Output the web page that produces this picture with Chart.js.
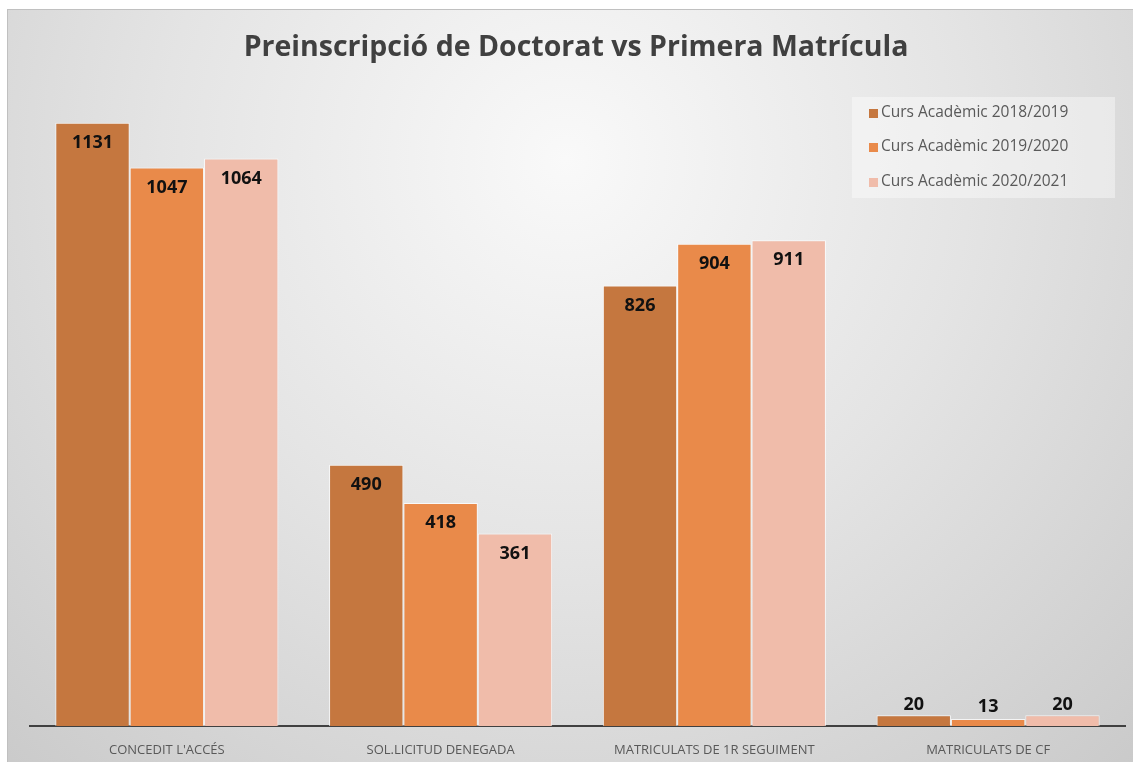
<!DOCTYPE html>
<html>
<head>
<meta charset="utf-8">
<script src="https://cdn.jsdelivr.net/npm/chart.js@4/dist/chart.umd.min.js"></script>
<style>
html,body{margin:0;padding:0;background:#fff;}
#wrap{width:1133px;height:762px;position:relative;}
</style>
</head>
<body>
<div id="wrap"><canvas id="c" width="1133" height="762"></canvas></div>
<script>
const chartTitle = "Preinscripció de Doctorat vs Primera Matrícula";
const categories = ["CONCEDIT L'ACCÉS", "SOL.LICITUD DENEGADA", "MATRICULATS DE 1R SEGUIMENT", "MATRICULATS DE CF"];
const seriesNames = ["Curs Acadèmic 2018/2019", "Curs Acadèmic 2019/2020", "Curs Acadèmic 2020/2021"];
const values2018 = [1131, 490, 826, 20];
const values2019 = [1047, 418, 904, 13];
const values2020 = [1064, 361, 911, 20];
const seriesColors = ["#C5773F", "#E98A4A", "#F0BCAA"];

const FONT = "'Open Sans', 'Liberation Sans', sans-serif";

const bgPlugin = {
  id: 'bg',
  beforeDraw(chart) {
    const ctx = chart.ctx;
    ctx.save();
    ctx.fillStyle = '#ffffff';
    ctx.fillRect(0, 0, chart.width, chart.height);
    const g = ctx.createRadialGradient(566, 160, 0, 566, 160, 900);
    g.addColorStop(0, '#f9f9f9');
    g.addColorStop(0.45, '#e4e4e4');
    g.addColorStop(1, '#c6c6c6');
    ctx.fillStyle = g;
    ctx.fillRect(7, 9, chart.width - 7, chart.height - 9);
    ctx.strokeStyle = '#c0c0c0';
    ctx.lineWidth = 1;
    ctx.strokeRect(7.5, 9.5, chart.width - 7, chart.height - 9);
    // title
    ctx.fillStyle = '#404040';
    ctx.font = "bold 28.5px " + FONT;
    ctx.textAlign = 'center';
    ctx.textBaseline = 'middle';
    ctx.fillText(chartTitle, 576, 48);
    ctx.restore();
  },
  afterDraw(chart) {
    const ctx = chart.ctx;
    ctx.save();
    // legend
    ctx.fillStyle = 'rgba(255,255,255,0.4)';
    ctx.fillRect(852, 97, 263, 101);
    ctx.font = "15.5px " + FONT;
    ctx.textBaseline = 'middle';
    ctx.textAlign = 'left';
    const ys = [113, 147, 182];
    chart.data.datasets.forEach((ds, i) => {
      ctx.fillStyle = ds.backgroundColor;
      ctx.fillRect(869, ys[i] - 4, 9, 9);
      ctx.fillStyle = '#595959';
      ctx.fillText(ds.label, 881, ys[i]);
    });
    ctx.restore();
  },
  afterDatasetsDraw(chart) {
    const ctx = chart.ctx;
    ctx.save();
    ctx.font = "bold 18px " + FONT;
    ctx.fillStyle = '#111111';
    ctx.textAlign = 'center';
    ctx.textBaseline = 'middle';
    chart.data.datasets.forEach((ds, i) => {
      const meta = chart.getDatasetMeta(i);
      meta.data.forEach((bar, j) => {
        const v = ds.data[j];
        const y = v > 100 ? bar.y + 20 : Math.min(bar.y, 717) - 10;
        ctx.fillText(String(v), bar.x, y);
      });
    });
    ctx.restore();
  }
};

const datasets = [values2018, values2019, values2020].map((vals, i) => ({
  label: seriesNames[i],
  data: vals,
  backgroundColor: seriesColors[i],
  borderColor: 'rgba(255,255,255,0.75)',
  borderWidth: 1,
  categoryPercentage: 0.815,
  barPercentage: 1.0
}));

new Chart(document.getElementById('c'), {
  type: 'bar',
  data: { labels: categories, datasets },
  options: {
    responsive: false,
    animation: false,
    devicePixelRatio: 1,
    layout: { padding: { top: 86, left: 30, right: 8, bottom: 0 } },
    plugins: { legend: { display: false }, title: { display: false }, tooltip: { enabled: false } },
    scales: {
      x: {
        grid: { display: false, drawTicks: false },
        border: { display: true, color: '#404040', width: 2 },
        ticks: { color: '#595959', font: { family: FONT, size: 13 }, padding: 16 },
        afterFit(s) { s.height = 36; }
      },
      y: {
        display: false,
        min: 0,
        max: 1200
      }
    }
  },
  plugins: [bgPlugin]
});
</script>
</body>
</html>
